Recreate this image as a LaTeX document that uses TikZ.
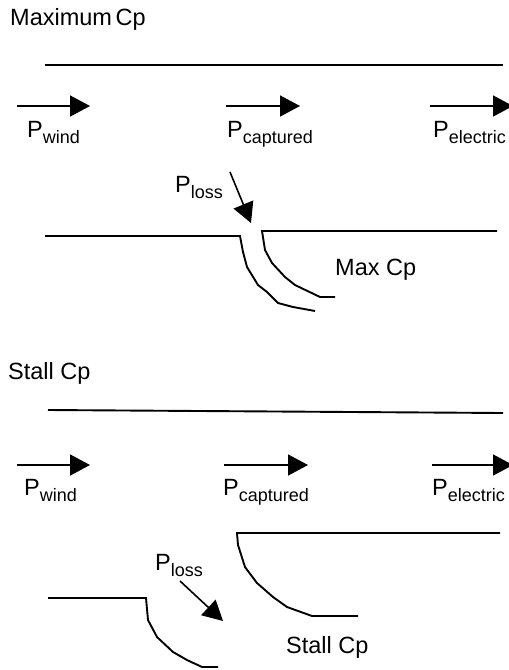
\documentclass[tikz,border=0pt]{standalone}
\usepackage{fontspec}
\setmainfont{Liberation Sans}
\usetikzlibrary{arrows.meta}

\newcommand{\Psub}[1]{P\raisebox{-6pt}{\fontsize{18}{21}\selectfont #1}}

\begin{document}
\begin{tikzpicture}[x=1pt, y=-1pt,
        every node/.style={font=\fontsize{23.5}{27}\selectfont, inner sep=0pt, anchor=base west},
        wall/.style={line width=1.9pt, line join=miter},
        flow/.style={line width=1.6pt, -{Triangle[length=20pt, width=21pt]}}]
        \useasboundingbox (0,0) rectangle (509,670);

        % Oben: Maximum Cp
        \node (titlemax) at (10,25) {Maximum\hspace{-3pt} Cp};
        \draw[wall] (45,65) -- (503,65);

        \coordinate (windA0) at (17,106);   \coordinate (windA1) at (90,106);
        \coordinate (captA0) at (226,106);  \coordinate (captA1) at (300,106);
        \coordinate (elecA0) at (430,106);  \coordinate (elecA1) at (513,106);
        \draw[flow] (windA0) -- (windA1);
        \draw[flow] (captA0) -- (captA1);
        \draw[flow] (elecA0) -- (elecA1);
        \node (pwindA) at (27,137)  {\Psub{wind}};
        \node (pcaptA) at (227,137) {\Psub{captured}};
        \node (pelecA) at (433,137) {\Psub{electric}};

        % Verlust, Spalt schmal
        \node (plossA) at (175,192) {\Psub{loss}};
        \coordinate (lossA0) at (230,172);
        \coordinate (lossA1) at (251,223);
        \draw[flow] (lossA0) -- (lossA1);

        \draw[wall] (45,236) -- (240,236) -- (243,252) -- (247,267) -- (258,285)
            -- (267,292) -- (278,303) -- (293,307) -- (315,311);
        \draw[wall] (497,231) -- (262,231) -- (265,250) -- (272,263) -- (285,277)
            -- (295,285) -- (320,297) -- (335,297);
        \node (maxcp) at (335,275) {Max Cp};

        % Unten: Stall Cp
        \node (titlestall) at (8,379) {Stall Cp};
        \draw[wall] (48,410) -- (503,413);

        \coordinate (windB0) at (17,465);   \coordinate (windB1) at (90,465);
        \coordinate (captB0) at (224,465);  \coordinate (captB1) at (308,465);
        \coordinate (elecB0) at (432,465);  \coordinate (elecB1) at (513,465);
        \draw[flow] (windB0) -- (windB1);
        \draw[flow] (captB0) -- (captB1);
        \draw[flow] (elecB0) -- (elecB1);
        \node (pwindB) at (24,495)  {\Psub{wind}};
        \node (pcaptB) at (223,495) {\Psub{captured}};
        \node (pelecB) at (432,495) {\Psub{electric}};

        % Verlust, Spalt breit
        \draw[wall] (500,533) -- (237,533) -- (238,545) -- (245,567) -- (257,583)
            -- (273,597) -- (287,607) -- (312,616) -- (358,616);
        \node (plossB) at (155,570) {\Psub{loss}};
        \coordinate (lossB0) at (180,581);
        \coordinate (lossB1) at (223,621);
        \draw[flow] (lossB0) -- (lossB1);

        \draw[wall] (48,598) -- (146,598) -- (148,620) -- (157,637) -- (173,652)
            -- (187,660) -- (202,667) -- (218,667);
        \node (stallcp) at (286,653) {Stall Cp};
    \end{tikzpicture}
\end{document}
